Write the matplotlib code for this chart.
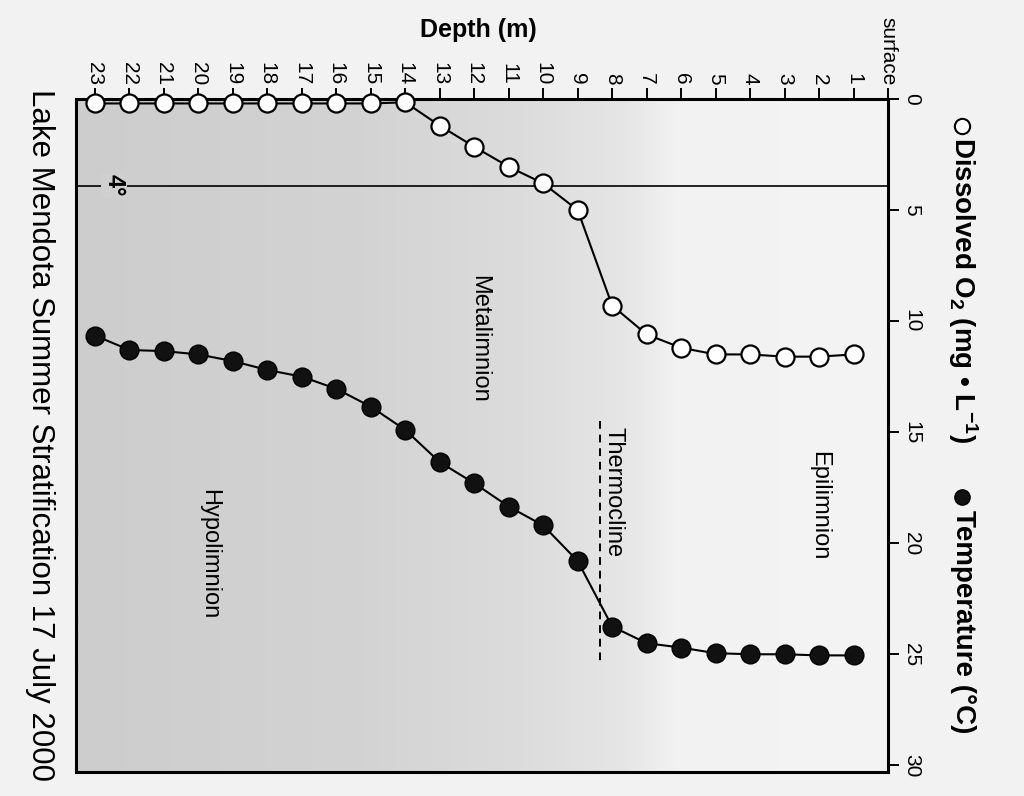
import numpy as np
import matplotlib
matplotlib.use("Agg")
import matplotlib.pyplot as plt
from matplotlib.colors import LinearSegmentedColormap
from matplotlib.lines import Line2D

# Lake Mendota, 17 July 2000 -- profile by depth (m)
depths = list(range(1, 24))
oxygen = [11.5, 11.6, 11.6, 11.5, 11.5, 11.2, 10.6, 9.3, 5.0, 3.8, 3.05, 2.15, 1.2,
          0.15, 0.2, 0.2, 0.2, 0.2, 0.2, 0.2, 0.2, 0.2, 0.2]
temperature = [25.05, 25.05, 25.0, 25.0, 24.95, 24.7, 24.5, 23.75, 20.8, 19.2, 18.35,
               17.3, 16.35, 14.9, 13.85, 13.05, 12.5, 12.2, 11.8, 11.5, 11.35, 11.3, 10.65]
depth_ticks = list(range(0, 24))
depth_labels = ["surface"] + [str(d) for d in range(1, 24)]
value_ticks = [0, 5, 10, 15, 20, 25, 30]
four_deg = 3.9
thermocline_depth = 8.35
thermocline_span = (14.5, 25.5)
zones = [("Epilimnion", 2.0, 18.3), ("Metalimnion", 11.85, 10.8),
         ("Thermocline", 7.95, 17.7), ("Hypolimnion", 19.7, 20.5)]

plt.rcParams["font.family"] = ["Liberation Sans", "DejaVu Sans"]
plt.rcParams["mathtext.fontset"] = "custom"
plt.rcParams["mathtext.rm"] = "Liberation Sans:bold"
plt.rcParams["mathtext.it"] = "Liberation Sans:bold"
plt.rcParams["mathtext.bf"] = "Liberation Sans:bold"

page = "#f2f2f2"
fig = plt.figure(figsize=(10.24, 7.96), dpi=100, facecolor=page)
ax = fig.add_axes([76 / 1024, 1 - 772 / 796, 812 / 1024, 673 / 796])
ax.set_facecolor(page)

# background shading: light near the surface, grey in the deep water
shade = LinearSegmentedColormap.from_list(
    "shade", [(0, "#cdcdcd"), (0.35, "#d3d3d3"), (0.55, "#dcdcdc"),
              (0.68, "#e6e6e6"), (0.74, "#f2f2f2"), (1, "#f4f4f4")])
grad = np.linspace(0, 1, 400).reshape(1, -1)
ax.imshow(grad, extent=(0, 1, 0, 1), transform=ax.transAxes, aspect="auto",
          cmap=shade, zorder=0)

ax.plot(depths, oxygen, color="black", lw=1.5, marker="o", ms=13,
        mfc="white", mec="black", mew=1.6, zorder=4, clip_on=False)
ax.plot(depths, temperature, color="black", lw=1.5, marker="o", ms=13.5,
        mfc="#111111", mec="black", zorder=4, clip_on=False)

ax.axhline(four_deg, color="black", lw=1.2, zorder=2)
ax.text(22.45, four_deg, "4°", rotation=-90, fontsize=17, fontweight="bold",
        ha="center", va="center", zorder=3,
        bbox=dict(facecolor="#cfcfcf", edgecolor="none", pad=1))
ax.plot([thermocline_depth, thermocline_depth], thermocline_span, color="black",
        lw=1.4, ls=(0, (4, 3)), zorder=2)
for name, d, v in zones:
    ax.text(d, v, name, rotation=-90, fontsize=17, ha="center", va="center", zorder=3)

ax.set_xlim(23.55, 0)
ax.set_ylim(30.3, 0)
ax.xaxis.tick_top()
ax.set_xticks(depth_ticks)
ax.set_xticklabels(depth_labels, rotation=-90, ha="center", va="bottom")
ax.yaxis.tick_right()
ax.set_yticks(value_ticks)
ax.set_yticklabels([str(v) for v in value_ticks], rotation=-90, va="center", ha="left")
ax.tick_params(axis="both", direction="out", length=8, width=1.4, labelsize=15, pad=2)
for s in ax.spines.values():
    s.set_linewidth(2.2)

fig.text(0.467, 0.962, "Depth (m)", fontsize=18, fontweight="bold", ha="center", va="center")
# legend-style axis titles on the right, with their marker symbols
fig.add_artist(Line2D([962 / 1024], [1 - 126 / 796], marker="o", ms=11, mfc="white",
                      mec="black", mew=1.5, transform=fig.transFigure))
fig.add_artist(Line2D([962 / 1024], [1 - 497 / 796], marker="o", ms=11, mfc="#111111",
                      mec="black", transform=fig.transFigure))
fig.text(0.94, 1 - 290 / 796, "Dissolved O$_2$ (mg • L$^{-1}$)", rotation=-90,
         fontsize=20, fontweight="bold", ha="center", va="center")
fig.text(0.94, 1 - 622 / 796, "Temperature (°C)", rotation=-90,
         fontsize=20, fontweight="bold", ha="center", va="center")
fig.text(0.039, 1 - 435 / 796, "Lake Mendota Summer Stratification 17 July 2000",
         rotation=-90, fontsize=22.5, ha="center", va="center")

fig.savefig("out.png", dpi=100, facecolor=page)
